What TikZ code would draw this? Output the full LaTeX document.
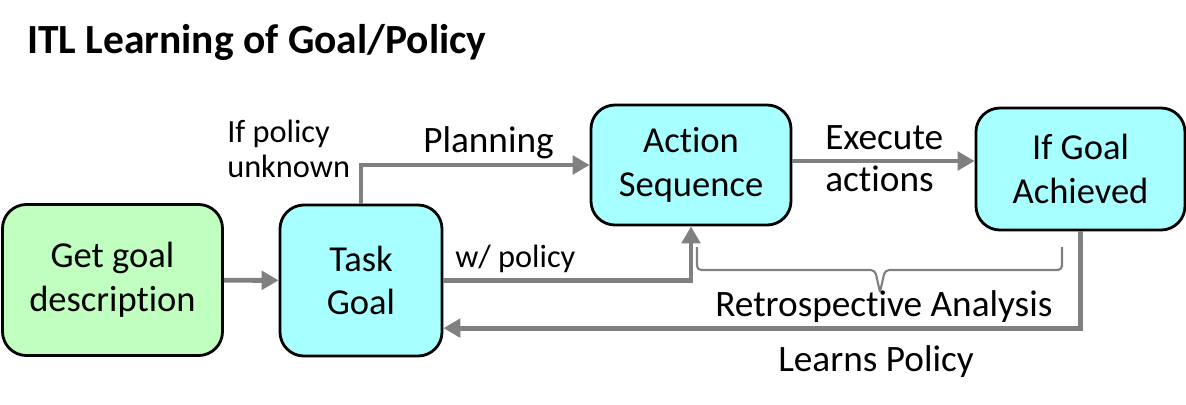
\documentclass[tikz,border=0pt]{standalone}
\usepackage{fontspec}
\setmainfont{Carlito}[Ligatures=NoCommon]
\usepackage{tikz}
\usetikzlibrary{arrows.meta, calc, positioning}
\definecolor{mygreen}{HTML}{C0FFC0}
\definecolor{mycyan}{HTML}{A8FFFF}
\definecolor{mygray}{HTML}{808080}
\tikzset{
	boxnode/.style={
			rectangle,
			rounded corners=0.6cm,
			draw=black,
			line width=2pt,
			fill=mycyan,
			align=center,
			font=\fontsize{26}{31}\selectfont,
			inner sep=0pt
		},
	startnode/.style={
			boxnode,
			fill=mygreen
		},
	flowarrow/.style={
			draw=mygray,
			line width=3.5pt,
			-{Triangle[length=12pt,width=13pt]}
		},
	braceline/.style={
			draw=mygray,
			line width=1.5pt,
			rounded corners=3pt
		},
	bigtext/.style={
			font=\fontsize{26.5}{30}\selectfont,
			inner sep=0pt
		},
	smalltext/.style={
			font=\fontsize{23}{25}\selectfont,
			inner sep=0pt
		}
}

\begin{document}
\begin{tikzpicture}[x=0.025cm, y=-0.025cm]
				\useasboundingbox (0,0) rectangle (1186,404);
				\node[anchor=base west, inner sep=0pt, font=\fontsize{29.5}{35}\selectfont\bfseries] (title) at (27,53) {ITL Learning of Goal/Policy};

				\node[startnode, minimum width=5.5cm, minimum height=3.775cm] (goal) at (112.5,280) {Get goal\\description};
				\node[boxnode, minimum width=4.05cm, minimum height=3.775cm] (task) at (361,280.5) {Task\\Goal};
				\node[boxnode, minimum width=5cm, minimum height=3cm] (seq) at (691,165) {Action\\Sequence};
				\node[boxnode, minimum width=5.225cm, minimum height=3.05cm] (ach) at (1080.5,169) {If Goal\\Achieved};

				\draw[flowarrow] (goal) -- (task);
				\draw[flowarrow] (task.north) |- (seq.west);
				\draw[flowarrow] (task.east) -| (seq.south);
				\draw[flowarrow] ([yshift=0.1cm]seq.east) -- ([yshift=0.1cm]seq.east -| ach.west);
				\draw[flowarrow] (ach.south) |- ([yshift=-1.19cm]task.east);

				% brace under the loop
				\coordinate (bl) at (697,247);
				\coordinate (bt) at (880,292);
				\coordinate (br) at (1062,247);
				\draw[braceline] (bl) -- (697,270) -- (875,270) -- (bt);
				\draw[braceline] (bt) -- (885,270) -- (1062,270) -- (br);

				\node[smalltext, anchor=west, align=left] (unknown) at (227,149) {If policy\\unknown};
				\node[bigtext, anchor=base west] (planning) at (423,152) {Planning};
				\node[smalltext, anchor=base west] (withpolicy) at (455,267) {w/ policy};
				\node[bigtext, anchor=west, align=left] (execute) at (825,159) {Execute\\actions};
				\node[bigtext, anchor=base west] (retro) at (715,316) {Retrospective Analysis};
				\node[bigtext, anchor=base west] (learns) at (778,371) {Learns Policy};
			\end{tikzpicture}
\end{document}
